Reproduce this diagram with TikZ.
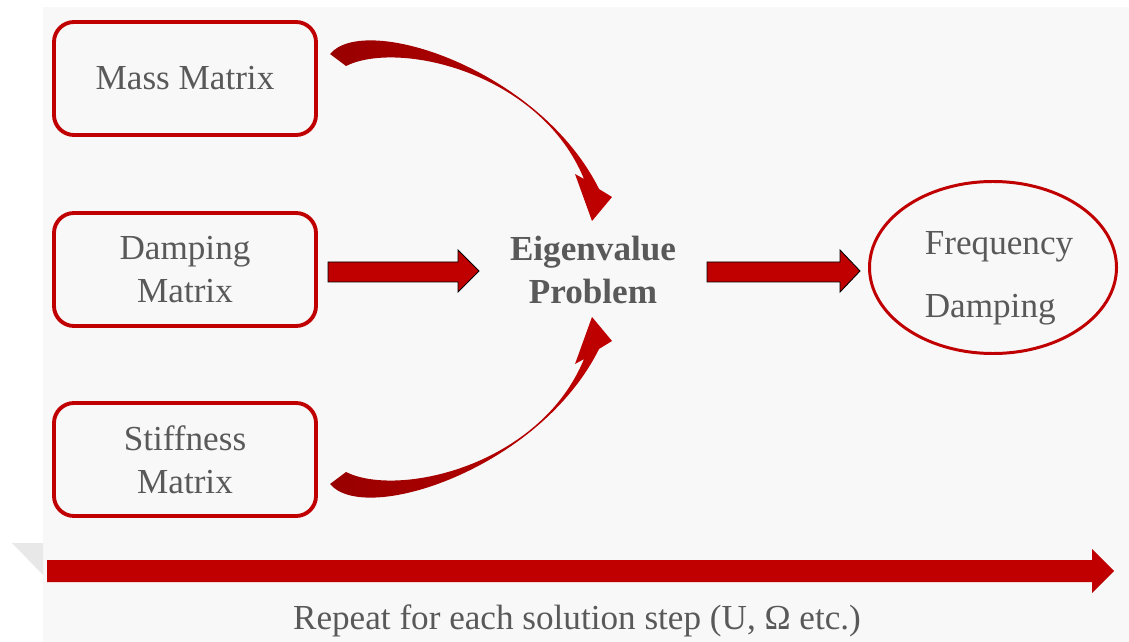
\documentclass[tikz,border=0pt]{standalone}
\usepackage{fontspec}
\setmainfont{Liberation Serif}
\usetikzlibrary{shapes.geometric}

\definecolor{boxred}{HTML}{C00000}
\definecolor{tailred}{HTML}{980000}
\definecolor{txtgray}{HTML}{595959}
\definecolor{bggray}{HTML}{F8F8F8}

\begin{document}
\begin{tikzpicture}[scale=0.2,
  matbox/.style={draw=boxred, line width=2.2pt, rounded corners=0.4cm,
    minimum width=5.24cm, minimum height=2.26cm, align=center,
    text=txtgray, font=\fontsize{20}{24.4}\selectfont},
  resell/.style={ellipse, draw=boxred, line width=1.7pt,
    minimum width=4.94cm, minimum height=3.44cm},
  restext/.style={align=left, text=txtgray, font=\fontsize{20}{36}\selectfont},
  blockarr/.style={fill=boxred, draw=black, line width=0.5pt},
  bendarr/.style={left color=tailred, right color=boxred}]
\useasboundingbox (0,0) rectangle (112.9,-64.2);

% background
\fill [bggray] (4.3,-0.7) rectangle (112.9,-64.2);
\fill [gray!18] (1.2,-54.3) -- (4.3,-54.3) -- (4.3,-57.5) -- cycle;

% input matrices
\node [matbox] (mass) at (18.5,-7.85) {Mass Matrix};
\node [matbox] (damp) at (18.5,-26.95) {Damping\\Matrix};
\node [matbox] (stiff) at (18.5,-45.95) {Stiffness\\Matrix};

% eigenvalue problem and result
\node [align=center, text=txtgray, font=\fontsize{20}{24.4}\selectfont\bfseries] (eig) at (59.3,-27.0) {Eigenvalue\\Problem};
\node [resell] (res) at (99.3,-26.75) {};
\node [restext] (restxt) at (99.9,-27.85) {Frequency\\Damping};

% straight block arrows
\draw [blockarr] (32.8,-26.2) -- (45.8,-26.2) -- (45.8,-25.0) -- (47.9,-27.1) -- (45.8,-29.2) -- (45.8,-28.2) -- (32.8,-28.2) -- cycle;
\draw [blockarr] (70.7,-26.2) -- (84.0,-26.2) -- (84.0,-25.0) -- (86.0,-27.1) -- (84.0,-29.2) -- (84.0,-28.2) -- (70.7,-28.2) -- cycle;

% curved arrows from mass and stiffness
\shade [bendarr] (33.0,-5.4) .. controls (36.5,-1.2) and (54.0,-7.0) .. (59.9,-18.9)
  -- (61.2,-19.7) -- (59.2,-22.1) -- (57.5,-17.4) -- (58.4,-17.9)
  .. controls (54.0,-7.2) and (39.8,-4.0) .. (34.6,-6.6) -- cycle;
\shade [bendarr] (33.0,-48.4) .. controls (36.5,-52.6) and (54.0,-46.8) .. (59.9,-34.9)
  -- (61.2,-34.1) -- (59.2,-31.7) -- (57.5,-36.4) -- (58.4,-35.9)
  .. controls (54.0,-46.6) and (39.8,-49.8) .. (34.6,-47.2) -- cycle;

% repeat arrow
\fill [boxred] (4.7,-56.0) -- (109.2,-56.0) -- (109.2,-54.9) -- (111.4,-57.1) -- (109.2,-59.3) -- (109.2,-58.2) -- (4.7,-58.2) -- cycle;
\node [text=txtgray, font=\fontsize{20}{24}\selectfont] (rep) at (57.7,-62.1) {Repeat for each solution step (U, Ω etc.)};
\end{tikzpicture}
\end{document}
